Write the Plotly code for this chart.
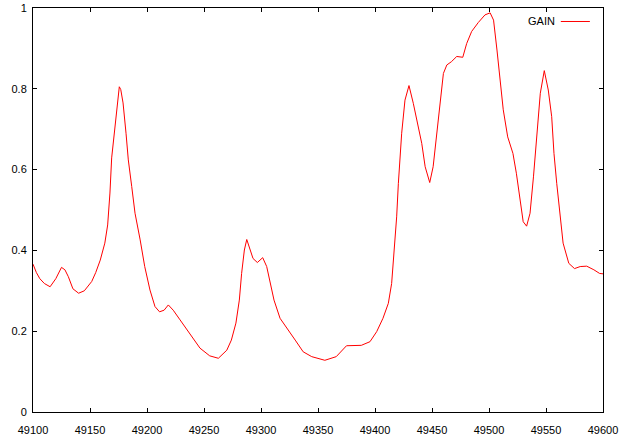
import plotly.graph_objects as go

# Traced GAIN curve (x, y)
x_vals = [49100, 49103, 49106, 49110, 49115, 49120, 49125, 49128, 49131, 49135, 49140, 49145,
          49151.5, 49155, 49159, 49163, 49165.5, 49167.5, 49169, 49172, 49174, 49175.7,
          49177, 49179, 49181.6, 49183.6, 49186.6, 49189.5, 49194, 49198, 49202.6, 49207,
          49211, 49215, 49218.7, 49223, 49229, 49236, 49240.6, 49246.5, 49255, 49262.6,
          49270, 49274, 49278, 49281, 49283, 49285.4, 49287.5, 49290, 49293, 49296.8,
          49301.5, 49305, 49308.5, 49311.4, 49316.7, 49322.5, 49330, 49337, 49344.5,
          49356, 49366, 49375, 49388, 49395.6, 49401.5, 49407, 49411.7, 49414.6, 49417,
          49419, 49420.5, 49423.4, 49426.3, 49429.8, 49433.6, 49438, 49441, 49444, 49448,
          49451, 49454, 49457, 49460, 49463, 49467, 49471.7, 49477, 49480.4, 49484.8,
          49490.6, 49496.5, 49501, 49504, 49507, 49510, 49512.5, 49516.4, 49521, 49524,
          49527, 49530, 49533, 49536, 49539, 49542, 49545, 49548.5, 49552, 49555, 49557,
          49559.4, 49562, 49565, 49570, 49575, 49580, 49585.7, 49592, 49597, 49600]
gain = [0.366, 0.345, 0.330, 0.318, 0.310, 0.330, 0.358, 0.352, 0.335, 0.305, 0.294, 0.300,
        0.323, 0.345, 0.376, 0.418, 0.463, 0.542, 0.629, 0.706, 0.772, 0.805,
        0.798, 0.765, 0.690, 0.624, 0.558, 0.492, 0.426, 0.360, 0.302, 0.261,
        0.248, 0.252, 0.265, 0.252, 0.228, 0.199, 0.183, 0.158, 0.139, 0.133,
        0.153, 0.178, 0.220, 0.277, 0.343, 0.401, 0.427, 0.405, 0.380, 0.370,
        0.382, 0.360, 0.318, 0.277, 0.232, 0.207, 0.178, 0.149, 0.137,
        0.128, 0.137, 0.164, 0.165, 0.174, 0.199, 0.232, 0.269, 0.318, 0.401,
        0.483, 0.566, 0.690, 0.772, 0.808, 0.764, 0.706, 0.665, 0.607, 0.568,
        0.607, 0.690, 0.772, 0.838, 0.859, 0.867, 0.880, 0.878, 0.912, 0.942,
        0.964, 0.983, 0.988, 0.970, 0.896, 0.805, 0.748, 0.681, 0.640, 0.591,
        0.525, 0.471, 0.460, 0.492, 0.582, 0.690, 0.789, 0.845, 0.797, 0.731, 0.640,
        0.566, 0.492, 0.418, 0.368, 0.355, 0.360, 0.361, 0.352, 0.343, 0.342]

x_ticks = [49100, 49150, 49200, 49250, 49300, 49350, 49400, 49450, 49500, 49550, 49600]
y_ticks = [0, 0.2, 0.4, 0.6, 0.8, 1]
y_tick_text = ["0", "0.2", "0.4", "0.6", "0.8", "1"]
series_name = "GAIN"
line_color = "#ff0000"

font = dict(family="Liberation Sans, DejaVu Sans, sans-serif", size=11, color="black")

fig = go.Figure()
fig.add_trace(go.Scatter(x=x_vals, y=gain, mode="lines", name=series_name,
                         line=dict(color=line_color, width=1), showlegend=False))

axis_common = dict(showline=True, linecolor="black", linewidth=1, mirror="ticks",
                   ticks="inside", ticklen=4, tickcolor="black", tickwidth=1,
                   showgrid=False, zeroline=False, tickfont=font, automargin=False)

fig.update_layout(
    width=623, height=443,
    margin=dict(l=33, r=20, t=8, b=31),
    paper_bgcolor="white", plot_bgcolor="white",
    xaxis=dict(range=[49100, 49600], tickvals=x_ticks,
               ticktext=[str(v) for v in x_ticks], ticklabelstandoff=8, **axis_common),
    yaxis=dict(range=[0, 1], tickvals=y_ticks, ticktext=y_tick_text,
               ticklabelstandoff=3, **axis_common),
    showlegend=False,
)

# gnuplot-style key: text then line sample at right
fig.add_annotation(xref="paper", yref="paper", x=0.919, y=0.9666, text=series_name,
                   showarrow=False, xanchor="right", yanchor="middle", font=font)
fig.add_shape(type="line", xref="paper", yref="paper", x0=0.926, x1=0.977,
              y0=0.9666, y1=0.9666, line=dict(color=line_color, width=1))

fig.write_html("out.html", config={"displayModeBar": False},
               post_script="document.body.style.margin='0';document.body.style.overflow='hidden';")
